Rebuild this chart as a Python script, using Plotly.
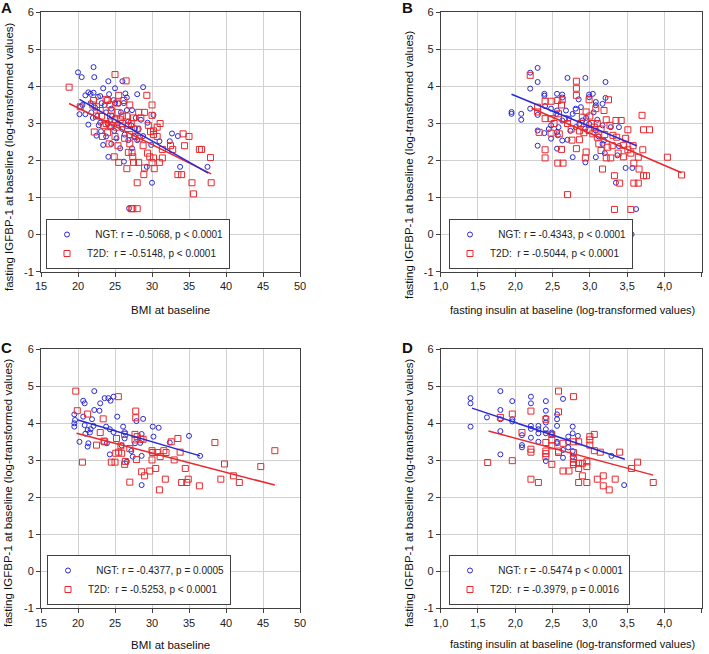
import plotly.graph_objects as go

# ---------------- data ----------------
a_ngt = [(20.0,4.38),(20.5,4.25),(22.1,4.52),(22.2,4.25),(24.1,4.14),(26.0,4.14),(28.8,3.98),(25.0,3.95),(23.4,3.95),
 (20.2,3.25),(20.3,3.45),(20.6,3.50),(21.0,3.76),(21.4,3.84),(21.7,3.80),(22.1,3.83),(21.4,2.97),(22.3,3.43),(22.7,3.72),
 (23.0,3.74),(22.5,2.67),(23.1,2.79),(23.4,2.42),(24.1,2.10),(24.2,3.79),(24.8,3.63),(25.5,3.54),(26.4,3.81),(26.6,3.70),
 (26.6,3.36),(28.0,3.79),(27.3,3.36),(23.0,3.02),(24.4,3.10),(25.7,2.33),(26.2,1.97),(26.8,2.55),(27.3,2.33),(27.7,2.87),
 (29.4,3.02),(30.2,3.23),(29.9,2.42),(28.8,2.66),(29.3,1.83),(30.0,1.40),(31.0,2.52),(32.4,2.52),(32.7,2.73),(33.8,1.83),
 (33.5,2.66),(37.5,1.83),(26.9,0.71),(29.9,0.02),(21.0,3.25),(21.8,3.30),(22.0,3.15),(22.6,3.20),(23.2,3.55),(23.6,3.50),
 (23.8,3.30),(24.0,3.00),(24.3,2.90),(24.6,3.20),(24.9,2.80),(25.2,2.60),(25.4,3.00),(25.8,3.30),(26.0,2.85),(26.3,2.70),
 (26.8,3.05),(27.2,2.95),(27.6,2.65),(28.2,2.85),(28.5,3.10),(23.8,2.65),(24.5,2.45),(22.8,2.95),(21.7,3.55),(25.0,3.55),
 (26.2,3.55),(27.8,3.15),(24.5,3.40),(28.0,2.55)]
a_t2d = [(18.8,3.98),(25.0,4.32),(26.5,4.15),(29.3,3.76),(25.5,3.76),(24.0,3.62),(22.1,3.62),(20.3,3.45),(22.0,3.50),
 (22.5,3.45),(23.8,3.65),(24.3,3.50),(26.2,3.62),(27.0,3.50),(25.4,3.30),(26.0,3.20),(26.6,3.20),(28.2,3.30),(29.0,3.30),
 (30.0,3.50),(30.0,3.22),(31.1,3.00),(30.7,2.90),(30.2,2.80),(29.8,2.78),(28.0,2.85),(27.2,3.00),(27.5,3.15),(28.5,3.15),
 (26.0,3.00),(25.2,2.90),(24.5,2.95),(23.5,2.95),(23.3,2.65),(22.2,2.77),(24.0,2.75),(24.2,2.45),(25.0,2.65),(26.3,2.60),
 (27.0,2.70),(27.7,2.65),(28.8,2.40),(29.4,2.20),(29.7,2.10),(30.2,2.07),(31.0,1.95),(31.4,2.07),(30.2,2.70),(27.3,2.22),
 (27.4,2.10),(27.5,1.95),(27.0,2.45),(26.8,2.22),(25.4,2.40),(25.5,1.95),(26.6,1.78),(24.9,2.10),(28.2,1.95),(29.0,1.80),
 (30.0,1.95),(30.3,1.78),(28.9,1.62),(28.0,1.40),(32.5,2.40),(32.8,2.30),(33.5,1.62),(34.0,1.62),(34.2,2.72),(34.4,2.40),
 (35.0,2.65),(35.4,1.40),(35.6,1.10),(36.4,2.30),(36.7,2.30),(37.9,2.08),(38.0,1.40),(27.2,0.70),(27.4,0.70),(28.0,0.70),
 (31.4,2.30),(22.5,3.20),(23.2,3.20),(23.8,3.00),(24.4,3.20),(25.0,3.10),(25.7,3.10),(23.0,3.35),(24.5,3.35),(25.3,3.55),
 (26.8,2.95),(28.3,2.60),(29.5,2.95),(30.7,2.65)]
a_fit_ngt_x, a_fit_ngt_y = [20.2, 37.6], [3.65, 1.66]
a_fit_t2d_x, a_fit_t2d_y = [18.8, 38.0], [3.54, 1.64]

b_ngt = [(2.20,4.37),(2.30,4.50),(2.30,4.12),(2.20,3.94),(1.95,3.31),(1.95,3.26),(2.08,3.26),(2.08,3.10),(2.20,3.40),
 (2.39,3.80),(2.39,3.75),(2.56,3.80),(2.63,3.78),(2.30,2.81),(2.30,2.40),(2.39,2.74),(2.48,2.59),(2.56,2.32),(2.56,2.77),
 (2.63,2.54),(2.70,4.23),(2.94,4.23),(3.21,4.12),(2.70,2.56),(2.88,3.44),(2.99,3.78),(3.04,3.80),(2.99,3.71),(3.08,3.58),
 (3.08,3.49),(3.21,3.69),(3.17,3.53),(2.81,3.40),(2.77,3.26),(2.72,3.13),(2.63,3.08),(2.48,2.95),(2.90,3.08),(2.86,2.99),
 (2.81,2.90),(2.94,2.86),(2.99,2.99),(3.08,2.81),(3.17,2.95),(3.28,2.90),(3.39,2.90),(2.77,2.09),(2.94,1.95),(3.08,2.09),
 (3.19,2.54),(3.17,2.45),(3.39,2.39),(3.48,1.80),(3.57,1.80),(3.35,1.40),(3.62,0.69),(3.56,0.01),(3.37,2.14),(2.57,2.68),
 (2.48,3.40),(2.55,3.26),(2.30,3.23),(2.40,3.47),(2.56,3.35),(2.63,3.70),(2.68,3.35),(2.85,3.65),(2.95,3.15),(3.05,3.30),
 (3.10,3.10),(3.12,2.65),(3.20,2.20),(2.74,2.80),(2.58,2.90),(2.45,2.85)]
b_t2d = [(2.20,4.30),(2.40,3.60),(2.48,3.60),(2.57,3.62),(2.63,3.64),(2.30,3.44),(2.30,3.31),(2.40,3.13),(2.48,3.13),
 (2.58,3.26),(2.66,3.13),(2.48,2.74),(2.59,2.72),(2.40,2.29),(2.40,2.07),(2.57,1.93),(2.64,1.93),(2.70,1.08),(2.82,4.14),
 (2.82,3.95),(2.82,3.76),(2.82,3.35),(2.90,3.17),(2.95,3.31),(2.99,3.64),(3.08,3.40),(3.19,3.35),(3.25,3.64),(3.22,3.10),
 (3.06,2.90),(2.99,2.81),(3.04,2.72),(2.86,2.56),(2.82,2.32),(2.95,2.23),(2.94,2.07),(3.10,2.63),(3.12,2.45),(3.15,2.27),
 (3.22,2.07),(3.28,2.07),(3.24,2.36),(3.31,2.68),(3.36,2.63),(3.35,3.08),(3.42,3.08),(3.51,2.83),(3.45,2.41),(3.51,2.29),
 (3.70,3.22),(3.72,2.83),(3.80,2.83),(3.71,2.29),(3.65,2.09),(3.59,1.93),(3.66,1.77),(3.72,1.59),(3.76,1.59),(3.59,1.39),
 (3.65,1.39),(3.33,1.59),(3.40,1.39),(3.33,0.68),(3.55,0.68),(4.04,2.09),(4.23,1.61),(3.17,1.77),(2.32,2.76),(2.62,3.50),
 (2.52,3.00),(2.70,3.00),(2.75,2.85),(2.88,3.00),(2.92,2.75),(3.00,3.20),(3.02,3.00),(3.10,3.00),(3.15,2.85),(3.20,2.70),
 (3.27,2.95),(3.30,2.40),(3.38,2.20),(3.45,2.10),(3.55,2.20),(3.48,2.60),(3.58,2.40),(2.76,2.55),(2.62,2.30),(2.86,2.80)]
b_fit_ngt_x, b_fit_ngt_y = [1.95, 3.63], [3.79, 2.40]
b_fit_t2d_x, b_fit_t2d_y = [2.22, 4.23], [3.41, 1.67]

c_ngt = [(22.2,4.87),(20.7,4.61),(20.9,4.54),(23.0,4.54),(23.6,4.68),(24.1,4.68),(24.4,4.61),(24.8,4.72),(19.5,4.24),
 (19.6,4.09),(19.5,4.00),(19.5,3.91),(20.2,3.50),(20.7,4.18),(21.9,4.11),(22.2,4.36),(22.9,4.34),(21.3,3.82),(21.7,3.84),
 (21.4,3.46),(21.3,3.37),(22.1,3.93),(23.8,3.91),(23.9,3.46),(24.3,3.84),(24.8,3.76),(25.3,4.18),(24.3,3.16),(26.1,3.91),
 (26.3,3.59),(26.3,3.76),(27.9,4.06),(28.8,4.12),(30.1,3.91),(30.9,3.88),(30.2,3.64),(28.6,3.71),(27.7,3.46),(27.2,3.25),
 (28.6,3.12),(26.6,2.96),(28.6,2.33),(32.4,3.48),(35.0,3.66),(36.5,3.12),(21.0,3.72),(21.6,3.75),(20.9,3.95),(25.9,3.40),
 (27.4,3.10),(28.4,3.47)]
c_t2d = [(19.7,4.87),(19.9,4.34),(21.3,4.25),(20.6,2.95),(25.45,4.72),(23.4,4.12),(23.0,3.75),(22.5,3.41),(23.5,3.52),
 (25.2,3.59),(26.3,3.70),(25.5,3.22),(25.1,3.19),(25.9,3.19),(25.8,3.39),(24.5,2.95),(25.0,2.95),(26.4,2.97),(26.3,2.89),
 (27.0,3.32),(27.7,3.70),(27.8,4.33),(27.8,4.15),(27.7,3.55),(28.0,3.64),(28.5,3.57),(28.8,3.57),(27.9,3.02),(28.6,2.69),
 (29.0,2.58),(27.0,2.41),(29.7,2.71),(30.0,3.26),(30.1,3.21),(30.0,3.01),(30.5,2.78),(30.7,3.21),(31.1,3.10),(31.6,3.26),
 (31.9,3.21),(31.8,2.49),(31.0,2.20),(32.6,3.50),(33.0,3.01),(33.5,3.59),(33.8,3.22),(34.0,2.40),(34.5,2.78),(34.7,2.40),
 (34.9,2.49),(36.4,2.31),(38.5,3.48),(39.3,2.49),(39.8,2.90),(41.0,2.58),(41.8,2.40),(44.7,2.83),(46.6,3.26),(23.6,3.50)]
c_fit_ngt_x, c_fit_ngt_y = [20.0, 36.5], [4.09, 3.12]
c_fit_t2d_x, c_fit_t2d_y = [19.8, 46.6], [3.73, 2.33]

d_ngt = [(1.40,4.68),(1.40,4.54),(1.40,3.91),(1.62,4.16),(1.80,4.87),(1.80,4.36),(1.80,4.11),(1.80,3.79),(1.80,3.16),
 (1.96,4.60),(1.96,4.11),(1.96,4.05),(2.09,3.68),(2.09,3.41),(2.09,3.35),(2.21,4.72),(2.21,4.54),(2.21,3.93),(2.21,3.85),
 (2.21,3.61),(2.31,3.93),(2.31,3.84),(2.31,3.73),(2.31,3.50),(2.41,4.60),(2.41,4.34),(2.41,4.15),(2.41,4.02),(2.41,3.84),
 (2.41,3.73),(2.41,2.98),(2.49,3.75),(2.56,4.24),(2.56,4.11),(2.56,3.93),(2.56,3.50),(2.64,4.66),(2.64,3.28),(2.64,3.07),
 (2.71,3.64),(2.71,3.49),(2.71,3.35),(2.77,3.91),(2.77,3.73),(2.77,3.25),(2.77,3.10),(2.84,3.66),(3.29,3.12),(3.46,2.33),
 (2.56,3.46),(2.49,3.70)]
d_t2d = [(1.63,2.94),(1.80,4.16),(1.96,4.25),(1.96,2.99),(2.09,3.75),(2.21,4.33),(2.21,3.30),(2.21,3.22),(2.21,2.49),
 (2.31,2.40),(2.41,4.11),(2.41,3.48),(2.41,3.25),(2.41,3.10),(2.49,3.70),(2.49,3.55),(2.49,3.39),(2.49,2.89),(2.58,4.87),
 (2.58,4.31),(2.58,3.21),(2.64,3.46),(2.64,2.71),(2.72,2.71),(2.78,4.72),(2.78,3.21),(2.78,3.03),(2.78,2.94),(2.78,2.89),
 (2.78,3.50),(2.85,3.50),(2.85,2.92),(2.85,2.78),(2.85,2.40),(2.90,2.92),(2.90,2.58),(2.96,2.83),(2.96,2.96),(2.96,2.40),
 (3.00,3.64),(3.00,3.55),(3.00,3.41),(3.06,3.70),(3.06,3.26),(3.10,2.49),(3.14,3.22),(3.18,2.31),(3.18,2.58),(3.26,2.20),
 (3.34,2.49),(3.40,3.22),(3.56,2.78),(3.64,2.95),(3.85,2.40),(2.41,3.18),(2.58,3.25)]
d_fit_ngt_x, d_fit_ngt_y = [1.42, 3.47], [4.41, 3.03]
d_fit_t2d_x, d_fit_t2d_y = [1.64, 3.85], [3.79, 2.60]

legend_text = {
    "A": ("\u00a0\u00a0\u00a0NGT: r = -0.5068, p < 0.0001", "T2D:\u00a0\u00a0r = -0.5148, p < 0.0001"),
    "B": ("\u00a0\u00a0\u00a0NGT: r = -0.4343, p < 0.0001", "T2D:\u00a0\u00a0r = -0.5044, p < 0.0001"),
    "C": ("\u00a0\u00a0\u00a0NGT: r = -0.4377, p = 0.0005", "T2D:\u00a0\u00a0r = -0.5253, p < 0.0001"),
    "D": ("\u00a0\u00a0\u00a0NGT: r = -0.5474 p < 0.0001", "T2D:\u00a0\u00a0r = -0.3979, p = 0.0016"),
}
y_ticks = [-1, 0, 1, 2, 3, 4, 5, 6]
y_ticktext = ["-1", "0", "1", "2", "3", "4", "5", "6"]
bmi_ticks = [15, 20, 25, 30, 35, 40, 45, 50]
ins_ticks = [1.0, 1.5, 2.0, 2.5, 3.0, 3.5, 4.0, 4.5]
ins_ticktext = ["1,0", "1,5", "2,0", "2,5", "3,0", "3,5", "4,0", "4,5"]
y_title = "fasting IGFBP-1 at baseline (log-transformed values)"
x_title_bmi = "BMI at baseline"
x_title_ins = "fasting insulin at baseline (log-transformed values)"

# ---------------- figure ----------------
W, H = 709, 654
BLUE = "#2a2ad4"
RED = "#e8282e"
FONT = "Liberation Sans, Arial, sans-serif"

panels = [
    ("A", a_ngt, a_t2d, a_fit_ngt_x, a_fit_ngt_y, a_fit_t2d_x, a_fit_t2d_y, "x", "y", "legend"),
    ("B", b_ngt, b_t2d, b_fit_ngt_x, b_fit_ngt_y, b_fit_t2d_x, b_fit_t2d_y, "x2", "y2", "legend2"),
    ("C", c_ngt, c_t2d, c_fit_ngt_x, c_fit_ngt_y, c_fit_t2d_x, c_fit_t2d_y, "x3", "y3", "legend3"),
    ("D", d_ngt, d_t2d, d_fit_ngt_x, d_fit_ngt_y, d_fit_t2d_x, d_fit_t2d_y, "x4", "y4", "legend4"),
]

fig = go.Figure()
for key, ngt, t2d, fnx, fny, ftx, fty, xa, ya, lg in panels:
    fig.add_trace(go.Scatter(x=[p[0] for p in ngt], y=[p[1] for p in ngt], mode="markers",
                             name=legend_text[key][0], xaxis=xa, yaxis=ya, legend=lg,
                             marker=dict(symbol="circle-open", size=5, color=BLUE, line=dict(width=1, color=BLUE))))
    fig.add_trace(go.Scatter(x=[p[0] for p in t2d], y=[p[1] for p in t2d], mode="markers",
                             name=legend_text[key][1], xaxis=xa, yaxis=ya, legend=lg,
                             marker=dict(symbol="square-open", size=6, color=RED, line=dict(width=1, color=RED))))
    fig.add_trace(go.Scatter(x=ftx, y=fty, mode="lines", showlegend=False, xaxis=xa, yaxis=ya,
                             line=dict(color=RED, width=1.5), hoverinfo="skip"))
    fig.add_trace(go.Scatter(x=fnx, y=fny, mode="lines", showlegend=False, xaxis=xa, yaxis=ya,
                             line=dict(color=BLUE, width=1.5), hoverinfo="skip"))

# plot-area pixel boxes
left_x = (41, 300)
right_x = (440.7, 701.7)
top_y = (12.3, 271.7)
bot_y = (349.3, 608.3)

def dx(p):
    return [p[0] / W, p[1] / W]

def dy(p):
    return [1 - p[1] / H, 1 - p[0] / H]

axis_common = dict(showline=True, linecolor="#404040", linewidth=1, mirror=True, automargin=False,
                   showgrid=True, gridcolor="#d0d0d0", gridwidth=1, zeroline=False,
                   ticks="outside", ticklen=4, tickcolor="#404040",
                   tickfont=dict(family=FONT, size=11, color="#222222"))

layout_axes = {}
specs = [("xaxis", "yaxis", left_x, top_y, "bmi", "y"),
         ("xaxis2", "yaxis2", right_x, top_y, "ins", "y2"),
         ("xaxis3", "yaxis3", left_x, bot_y, "bmi", "y3"),
         ("xaxis4", "yaxis4", right_x, bot_y, "ins", "y4")]
for xn, yn, px, py, kind, yanchor in specs:
    if kind == "bmi":
        xa = dict(range=[15, 50], tickmode="array", tickvals=bmi_ticks,
                  ticktext=[str(v) for v in bmi_ticks])
    else:
        xa = dict(range=[1.0, 4.5], tickmode="array", tickvals=ins_ticks, ticktext=ins_ticktext)
    xa.update(axis_common)
    xa.update(domain=dx(px), anchor=yanchor)
    ya = dict(range=[-1, 6], tickmode="array", tickvals=y_ticks, ticktext=y_ticktext)
    ya.update(axis_common)
    ya.update(domain=dy(py), anchor=yanchor.replace("y", "x"))
    layout_axes[xn] = xa
    layout_axes[yn] = ya

def legend_box(px_left, px_bottom):
    return dict(x=px_left / W, y=1 - px_bottom / H, xanchor="left", yanchor="bottom",
                bgcolor="white", bordercolor="#404040", borderwidth=1,
                font=dict(family=FONT, size=10, color="#222222"),
                itemwidth=30, tracegroupgap=0)

annotations = []
def ann(text, x, y, size, bold=False, angle=0):
    annotations.append(dict(text=("<b>%s</b>" % text) if bold else text, x=x / W, y=1 - y / H,
                            xref="paper", yref="paper", showarrow=False, textangle=angle,
                            xanchor="center", yanchor="middle",
                            font=dict(family=FONT, size=size, color="#111111")))

ann("A", 6, 8, 15, bold=True)
ann("B", 407, 8, 15, bold=True)
ann("C", 6, 347, 15, bold=True)
ann("D", 407, 347, 15, bold=True)
ann(y_title, 9, 157, 11.5, angle=-90)
ann(y_title, 409, 165, 11.5, angle=-90)
ann(y_title, 8, 493, 11.5, angle=-90)
ann(y_title, 409, 493, 11.5, angle=-90)
ann(x_title_bmi, 170, 310, 11.5)
ann(x_title_ins, 572, 310, 11)
ann(x_title_bmi, 170, 645, 11.5)
ann(x_title_ins, 572, 644, 11)

fig.update_layout(
    width=W, height=H, margin=dict(l=0, r=0, t=0, b=0),
    paper_bgcolor="white", plot_bgcolor="white",
    font=dict(family=FONT, size=11, color="#222222"),
    showlegend=True,
    legend=legend_box(46, 269),
    legend2=legend_box(449, 269),
    legend3=legend_box(47, 605),
    legend4=legend_box(449, 605),
    annotations=annotations,
    **layout_axes,
)

fig.write_html("out.html",
               config={"displayModeBar": False},
               post_script="document.body.style.margin='0';document.body.style.padding='0';"
                           "document.documentElement.style.overflow='hidden';")
